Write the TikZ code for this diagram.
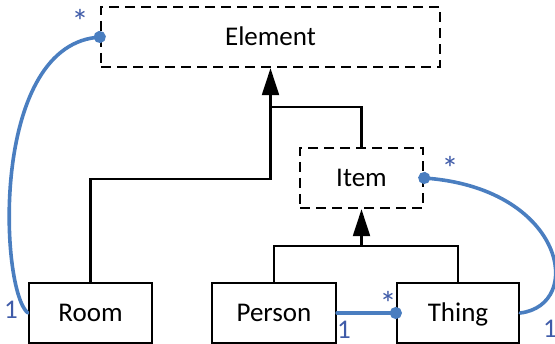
\documentclass[tikz,border=0pt]{standalone}
\usepackage{fontspec}
\setmainfont{Carlito}
\usetikzlibrary{arrows.meta}
\definecolor{cblue}{HTML}{4A7EC0}
\definecolor{cnum}{HTML}{3F5BA8}
\tikzset{
  every picture/.style={line width=2.3pt},
  cls/.style={draw=black, minimum height=60pt, inner sep=0pt, text height=17pt, text depth=0pt, font=\fontsize{27}{30}\selectfont},
  abstract/.style={cls, dash pattern=on 10pt off 6pt, line width=2.5pt},
  gen/.style={-{Triangle[length=27pt, width=17pt]}},
  assoc/.style={draw=cblue, line width=3.6pt, line cap=round, -{Circle[length=12pt]}, shorten >=-6pt},
  mult/.style={text=cnum, inner sep=0pt, font=\fontsize{27}{30}\selectfont},
  star/.style={mult, font=\fontsize{34}{36}\selectfont},
}

\begin{document}
\begin{tikzpicture}[x=1pt, y=-1pt]
  \useasboundingbox (0,0) rectangle (555,344);
  % abstract classes
  \node[abstract, minimum width=339pt] (element) at (270.5,37) {Element};
  \node[abstract, minimum width=123pt] (item) at (361.5,178) {Item};
  % concrete classes
  \node[cls, minimum width=123pt] (room) at (90.5,313) {Room};
  \node[cls, minimum width=124pt] (person) at (274,313) {Person};
  \node[cls, minimum width=122pt] (thing) at (458,313) {Thing};
  % inheritance
  \coordinate (ej) at (270.5,107);
  \coordinate (ij) at (361.5,246);
  \draw[gen] (room.north) -- ++(0,-103) -| (element.south);
  \draw (item.north) |- (ej);
  \draw (person.north) |- (ij) -| (thing.north);
  \draw[gen] (ij) -- (item.south);
  % associations
  \draw[assoc] (room.west) .. controls (0,290) and (-10,50) .. (element.west);
  \draw[assoc] (person.east) -- (thing.west);
  \draw[assoc] (thing.east) .. controls (585,305) and (565,190) .. (item.east);
  % multiplicities
  \node[star] (m1) at (80,21) {*};
  \node[mult] (m2) at (11,310) {1};
  \node[star] (m3) at (388,303) {*};
  \node[mult] (m4) at (344,330) {1};
  \node[star] (m5) at (450,168) {*};
  \node[mult] (m6) at (550,329) {1};
\end{tikzpicture}
\end{document}
